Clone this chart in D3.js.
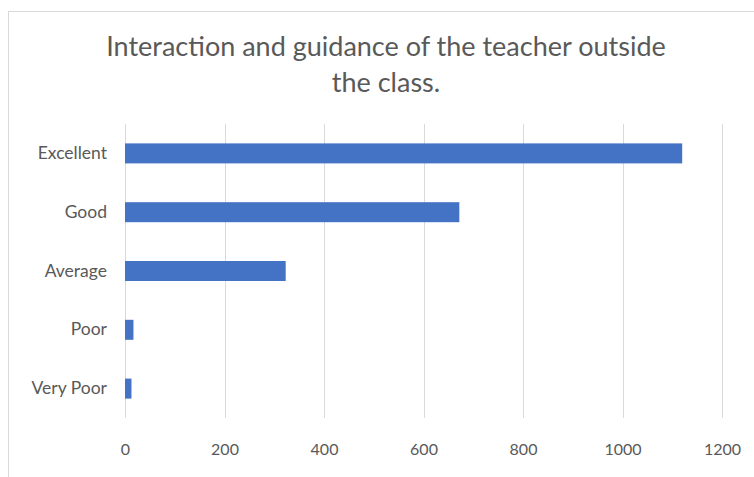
<!DOCTYPE html>
<html>
<head>
<meta charset="utf-8">
<script src="https://cdn.jsdelivr.net/npm/d3@7"></script>
<style>
  html, body { margin: 0; padding: 0; background: #ffffff; }
  svg { display: block; }
  text { font-family: Lato, "Open Sans", sans-serif; }
</style>
</head>
<body>
<svg id="chart" width="754" height="477"></svg>
<script>
const titleLines = ["Interaction and guidance of the teacher outside", "the class."];
const categories = ["Excellent", "Good", "Average", "Poor", "Very Poor"];
const values = [1120, 672, 323, 17, 13];
const xTicks = [0, 200, 400, 600, 800, 1000, 1200];

const svg = d3.select("#chart");
const W = 754, H = 477;
const margin = { left: 125, right: 32, top: 124, bottom: 59 };

svg.append("rect")
  .attr("x", 8.5).attr("y", 11.5)
  .attr("width", W).attr("height", H)
  .attr("fill", "#ffffff")
  .attr("stroke", "#d9d9d9").attr("stroke-width", 1);

const x = d3.scaleLinear().domain([0, 1200]).range([margin.left, W - margin.right]);
const y = d3.scaleBand().domain(categories)
  .range([margin.top, H - margin.bottom])
  .paddingInner(0.66).paddingOuter(0.33);

// gridlines
svg.append("g").selectAll("line").data(xTicks).join("line")
  .attr("x1", d => Math.round(x(d)) + 0.5).attr("x2", d => Math.round(x(d)) + 0.5)
  .attr("y1", margin.top).attr("y2", H - margin.bottom)
  .attr("stroke", "#d9d9d9").attr("stroke-width", 1);

// bars
svg.append("g").selectAll("rect").data(categories).join("rect")
  .attr("x", x(0))
  .attr("y", d => y(d))
  .attr("width", (d, i) => x(values[i]) - x(0))
  .attr("height", y.bandwidth())
  .attr("fill", "#4472c4");

// x axis labels
const xAxis = d3.axisBottom(x).tickValues(xTicks).tickFormat(d3.format("d")).tickSize(0).tickPadding(0);
const gx = svg.append("g").attr("transform", `translate(0, ${H - margin.bottom + 37})`).call(xAxis);
gx.select(".domain").remove();
gx.selectAll("text").attr("fill", "#595959").style("font-size", "16px").attr("dy", "0");

// y axis labels
const yAxis = d3.axisLeft(y).tickSize(0).tickPadding(18);
const gy = svg.append("g").attr("transform", `translate(${margin.left}, 0)`).call(yAxis);
gy.select(".domain").remove();
gy.selectAll("text").attr("fill", "#595959").style("font-size", "17.5px");

// title
svg.append("g").selectAll("text").data(titleLines).join("text")
  .attr("x", 386)
  .attr("y", (d, i) => 56 + i * 36)
  .attr("text-anchor", "middle")
  .attr("fill", "#595959")
  .style("font-size", "27px")
  .text(d => d);
</script>
</body>
</html>
